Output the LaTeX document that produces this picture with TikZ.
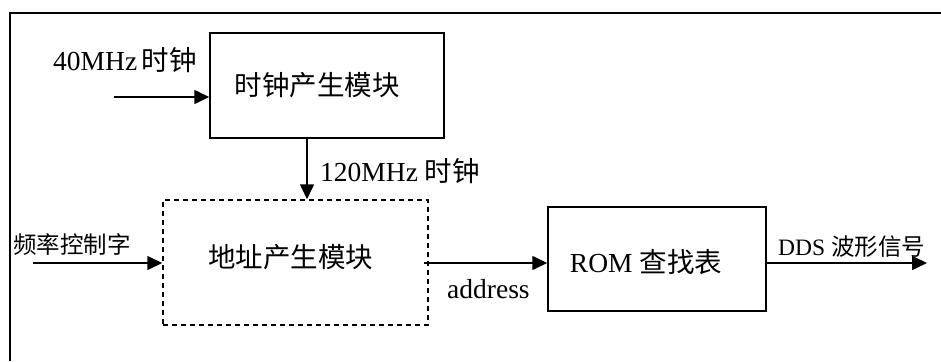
\documentclass[tikz,border=0pt]{standalone}
\usepackage{fontspec}
\setmainfont{Liberation Serif}
\newfontfamily\cjk{Noto Sans CJK SC}
\usetikzlibrary{arrows.meta}

\tikzset{
  blockbox/.style={draw, line width=1.5pt, inner sep=0pt, minimum width=#1},
  dashbox/.style={draw, line width=1.5pt, dash pattern=on 5pt off 4pt, inner sep=0pt},
  flow/.style={line width=1.6pt, -{Triangle[length=15pt,width=14pt]}},
  lbl/.style={inner sep=0pt, font=\fontsize{27.5}{30}\selectfont},
  smalllbl/.style={inner sep=0pt, font=\fontsize{23.5}{26}\selectfont},
}

\begin{document}
\begin{tikzpicture}[x=1pt, y=-1pt]
  \useasboundingbox (0,0) rectangle (941,361);

  % partial outer frame: top and left edges
  \draw[line width=2pt] (10,361) -- (10,13) -- (941,13);

  % blocks
  \node[blockbox=234pt, minimum height=105pt] (clk) at (327,85.5) {};
  \node[dashbox, minimum width=265pt, minimum height=125pt] (addr) at (295.5,262.5) {};
  \node[blockbox=218pt, minimum height=104pt] (rom) at (657,259) {};

  % block captions
  \node[lbl] (clkt) at ([xshift=-10pt]clk.center) {\cjk 时钟产生模块};
  \node[lbl] (addrt) at ([xshift=-5pt,yshift=5pt]addr.center) {\cjk 地址产生模块};
  \node[lbl] (romt) at ([xshift=-11pt,yshift=-3pt]rom.center) {ROM {\cjk 查找表}};

  % connector end points
  \coordinate (clkin) at (114,97);
  \coordinate (fin) at (33,263);
  \coordinate (aout) at (424,263);
  \coordinate (out) at (927,263);

  % connectors
  \draw[flow] (clkin) -- (clkin -| clk.west);
  \draw[flow] (clk.south -| 307,0) -- (addr.north -| 307,0);
  \draw[flow] (fin) -- (fin -| addr.west);
  \draw[flow] (aout) -- (aout -| rom.west);
  \draw[flow] (aout -| rom.east) -- (out);

  % signal labels
  \node[lbl, anchor=west] (l40) at (53,60) {40MHz\,{\cjk 时钟}};
  \node[lbl, anchor=west] (l120) at (320,171) {120MHz {\cjk 时钟}};
  \node[smalllbl, anchor=west] (lfreq) at (13,245) {\cjk 频率控制字};
  \node[lbl, anchor=west] (laddr) at (447,289) {address};
  \node[smalllbl, anchor=west] (ldds) at (778,247) {DDS {\cjk 波形信号}};
\end{tikzpicture}
\end{document}
